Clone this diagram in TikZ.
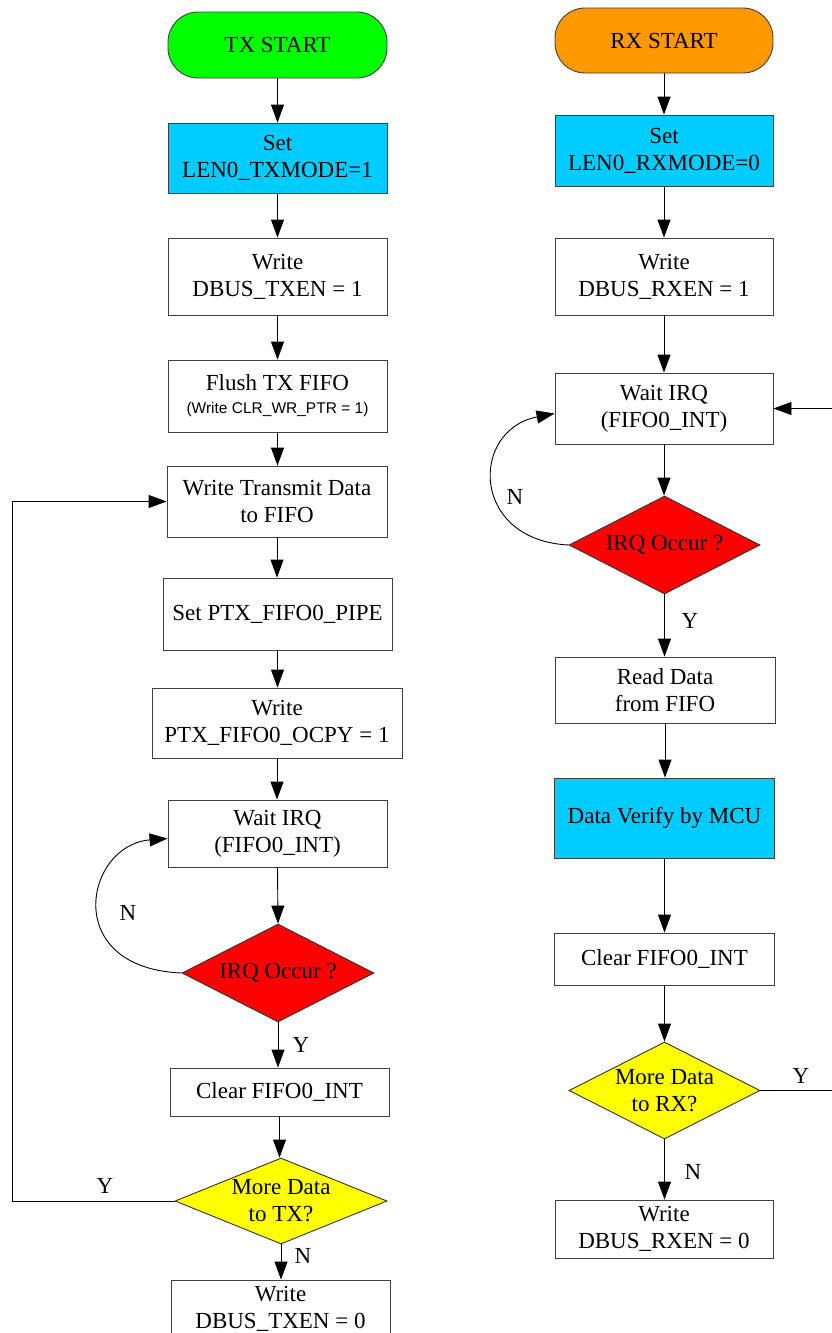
\documentclass[tikz,border=0pt]{standalone}
\usepackage{fontspec}
\setmainfont{Liberation Serif}
\newfontfamily\smallsans{Liberation Sans}
\usetikzlibrary{shapes.geometric,arrows.meta}
\definecolor{cgreen}{HTML}{00FF00}
\definecolor{corange}{HTML}{FF9900}
\definecolor{ccyan}{HTML}{00CCFF}
\definecolor{cred}{HTML}{FF0000}
\definecolor{cyellow}{HTML}{FFFF00}
\tikzset{
  base/.style={draw=black!75, line width=0.9pt, inner sep=0pt, align=center,
    font=\fontsize{23}{27}\selectfont},
  term/.style={base, rounded corners=30pt},
  proc/.style={base, fill=white},
  dec/.style={base, diamond, draw=black!80},
  lbl/.style={font=\fontsize{23}{27}\selectfont, inner sep=0pt, align=center},
  arr/.style={line width=0.9pt, -{Triangle[length=18pt,width=13pt]}},
}
\begin{document}
\begin{tikzpicture}[x=1pt,y=-1pt]
\useasboundingbox (0,0) rectangle (832,1333);
\clip (0,0) rectangle (832,1333);
\fill[white] (0,0) rectangle (832,1333);
% ---------- TX column ----------
\node[term, fill=cgreen, minimum width=219pt, minimum height=66pt] (txs) at (277.5,45) {TX START};
\node[proc, fill=ccyan, minimum width=219pt, minimum height=70pt] (txm) at (277.5,158) {Set\\LEN0\_TXMODE=1};
\node[proc, minimum width=219pt, minimum height=77pt] (txw) at (277.5,276.5) {Write\\DBUS\_TXEN = 1};
\node[proc, minimum width=219pt, minimum height=72pt] (txf) at (277.5,396) {Flush TX FIFO\\[-4pt]{\smallsans\fontsize{15.5}{18}\selectfont (Write CLR\_WR\_PTR = 1)}};
\node[proc, minimum width=220pt, minimum height=71pt] (txd) at (277,501.5) {Write Transmit Data\\to FIFO};
\node[proc, minimum width=229pt, minimum height=72pt] (txp) at (277.5,614) {Set PTX\_FIFO0\_PIPE};
\node[proc, minimum width=250pt, minimum height=70pt] (txo) at (277,723) {Write\\PTX\_FIFO0\_OCPY = 1};
\node[proc, minimum width=219pt, minimum height=67pt] (txi) at (277.5,833.5) {Wait IRQ\\(FIFO0\_INT)};
\node[dec, fill=cred, minimum width=192pt, minimum height=98pt] (txq) at (278,973) {};
\node[lbl] at (txq) {IRQ Occur ?};
\node[proc, minimum width=219pt, minimum height=48pt] (txc) at (279.5,1092) {Clear FIFO0\_INT};
\node[dec, fill=cyellow, minimum width=212pt, minimum height=86pt] (txm2) at (281,1201) {};
\node[lbl] at (txm2) {More Data\\to TX?};
\node[proc, minimum width=219pt, minimum height=58pt] (txe) at (280.5,1309) {Write\\DBUS\_TXEN = 0};

\draw[arr] (txs.south) -- (txs.south |- txm.north);
\draw[arr] (txm.south) -- (txm.south |- txw.north);
\draw[arr] (txw.south) -- (txw.south |- txf.north);
\draw[arr] (txf.south) -- (txf.south |- txd.north);
\draw[arr] (txd.south) -- (txd.south |- txp.north);
\draw[arr] (txp.south) -- (txp.south |- txo.north);
\draw[arr] (txo.south) -- (txo.south |- txi.north);
\draw[arr] (txi.south) -- (txq.north);
\draw[arr] (txq.south) -- (txq.south |- txc.north);
\draw[arr] (txc.south) -- (txc.south |- txm2.north);
\draw[arr] (txm2.south) -- (txm2.south |- txe.north);
\coordinate (txlb) at (12,1201);
\coordinate (txlt) at (12,501.5);
\draw[arr] (txm2.west) -- (txlb) -- (txlt) -- (txd.west);
\draw[arr] (txq.west) .. controls (60,968) and (85,845) .. ([yshift=-5pt]txi.west);
\node[lbl] at (105,1186) {Y};
\node[lbl] at (128,913) {N};
\node[lbl] at (301,1045) {Y};
\node[lbl] at (303,1256) {N};

% ---------- RX column ----------
\node[term, fill=corange, minimum width=218pt, minimum height=65pt] (rxs) at (664,40.5) {RX START};
\node[proc, fill=ccyan, minimum width=218pt, minimum height=71pt] (rxm) at (664,150.5) {Set\\LEN0\_RXMODE=0};
\node[proc, minimum width=218pt, minimum height=77pt] (rxw) at (664,276.5) {Write\\DBUS\_RXEN = 1};
\node[proc, minimum width=218pt, minimum height=71pt] (rxi) at (664,408.5) {Wait IRQ\\(FIFO0\_INT)};
\node[dec, fill=cred, minimum width=191pt, minimum height=98pt] (rxq) at (664.5,545) {};
\node[lbl] at (rxq) {IRQ Occur ?};
\node[proc, minimum width=220pt, minimum height=66pt] (rxr) at (665,690) {Read Data\\from FIFO};
\node[proc, fill=ccyan, minimum width=220pt, minimum height=80pt] (rxv) at (664.5,818) {Data Verify by MCU};
\node[proc, minimum width=220pt, minimum height=52pt] (rxc) at (664.5,959) {Clear FIFO0\_INT};
\node[dec, fill=cyellow, minimum width=191pt, minimum height=97pt] (rxm2) at (664.5,1090.5) {};
\node[lbl] at (rxm2) {More Data\\to RX?};
\node[proc, minimum width=218pt, minimum height=58pt] (rxe) at (664,1229) {Write\\DBUS\_RXEN = 0};

\draw[arr] (rxs.south) -- (rxs.south |- rxm.north);
\draw[arr] (rxm.south) -- (rxm.south |- rxw.north);
\draw[arr] (rxw.south) -- (rxw.south |- rxi.north);
\draw[arr] (rxi.south) -- (rxi.south |- rxq.north);
\draw[arr] (rxq.south) -- (rxq.south |- rxr.north);
\draw[arr] (rxr.south) -- (rxr.south |- rxv.north);
\draw[arr] (rxv.south) -- (rxv.south |- rxc.north);
\draw[arr] (rxc.south) -- (rxc.south |- rxm2.north);
\draw[arr] (rxm2.south) -- (rxm2.south |- rxe.north);
\coordinate (rxlb) at (850,1090.5);
\coordinate (rxlt) at (850,408.5);
\draw[arr] (rxm2.east) -- (rxlb) -- (rxlt) -- (rxi.east);
\draw[arr] (rxq.west) .. controls (470,540) and (470,430) .. ([yshift=-5pt]rxi.west);
\node[lbl] at (801,1076) {Y};
\node[lbl] at (515,497) {N};
\node[lbl] at (690,621) {Y};
\node[lbl] at (693,1172) {N};
\end{tikzpicture}
\end{document}
